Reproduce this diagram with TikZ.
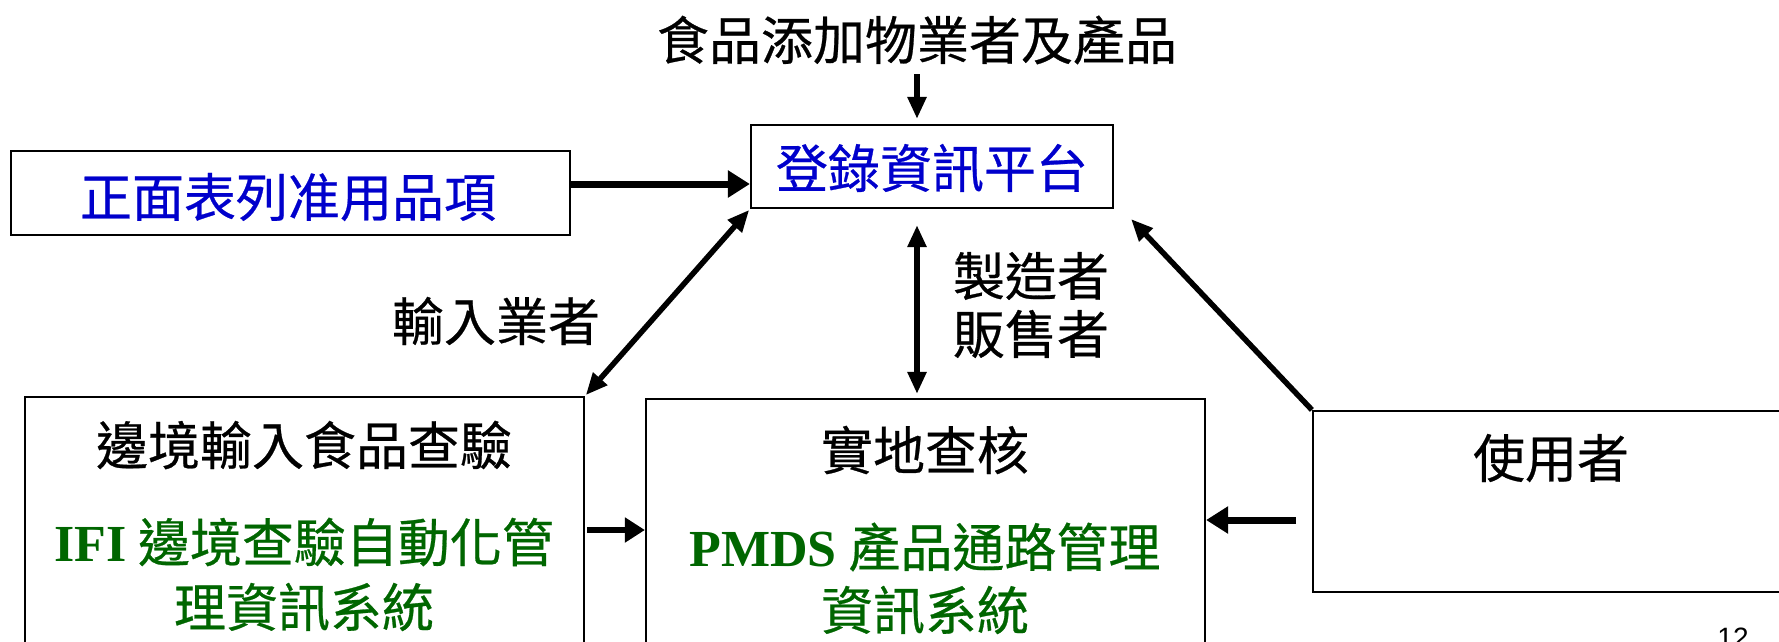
\documentclass[tikz,border=0pt]{standalone}
\usepackage{fontspec}
\setmainfont{Liberation Serif}
\newfontfamily\cjk{Noto Sans CJK TC}[FakeBold=0.5]
\newfontfamily\arialf{Liberation Sans}
\usetikzlibrary{arrows.meta}
\definecolor{tblue}{RGB}{0,0,204}
\definecolor{tgreen}{RGB}{0,102,0}
\begin{document}
\begin{tikzpicture}[x=1pt,y=-1pt,
  box/.style={draw=black,line width=2.2pt,fill=white,inner sep=0pt},
  lbl/.style={inner sep=0pt,font=\cjk\fontsize{52}{58}\selectfont},
  thickarrow/.style={line width=7pt,-{Triangle[length=22pt,width=26pt]}},
  thinarrow/.style={line width=5.5pt,-{Triangle[length=22pt,width=18pt]}},
  dblarrow/.style={line width=5.5pt,{Triangle[length=22pt,width=18pt]}-{Triangle[length=22pt,width=18pt]}}]
\useasboundingbox (0,0) rectangle (1779,641);
\clip (0,0) rectangle (1779,641);
\fill[white] (0,0) rectangle (1779,641);
% boxes
\node[box,minimum width=362pt,minimum height=83pt] (reg) at (932,166.5) {};
\node[box,minimum width=559pt,minimum height=84pt] (pos) at (290.5,193) {};
\node[box,minimum width=559pt,minimum height=260pt] (bor) at (304.5,527) {};
\node[box,minimum width=559pt,minimum height=260pt] (fld) at (925.5,529) {};
\node[box,minimum width=487pt,minimum height=181pt] (usr) at (1556.5,501.5) {};
% texts
\node[lbl] (toptxt) at (917,40) {食品添加物業者及產品};
\node[lbl,text=tblue] (regtxt) at (932,168) {登錄資訊平台};
\node[lbl,text=tblue] (postxt) at (288,197) {正面表列准用品項};
\node[lbl] (imp) at (496,321) {輸入業者};
\node[lbl,align=center] (mfr) at (1031,305) {製造者\\販售者};
\node[lbl] (bortxt) at (304,445) {邊境輸入食品查驗};
\node[lbl,text=tgreen] (ifi1) at (304,542) {{\rmfamily\bfseries IFI} 邊境查驗自動化管};
\node[lbl,text=tgreen] (ifi2) at (304,607) {理資訊系統};
\node[lbl] (fldtxt) at (925,450) {實地查核};
\node[lbl,text=tgreen] (pmds1) at (925,547) {{\rmfamily\bfseries PMDS} 產品通路管理};
\node[lbl,text=tgreen] (pmds2) at (925,610) {資訊系統};
\node[lbl] (usrtxt) at (1551,458) {使用者};
\node[inner sep=0pt,anchor=base,font=\arialf\fontsize{28}{30}\selectfont] (pg) at (1733,647) {12};
% connectors
\coordinate (posout) at (570,184);
\draw[thickarrow] (posout) -- (posout -| reg.west);
\draw[thinarrow,shorten <=8pt,shorten >=5pt] (toptxt.south |- 0,66) -- (toptxt.south |- reg.north);
\draw[dblarrow,shorten <=1pt,shorten >=1pt] (reg.south west) -- (bor.north east);
\draw[dblarrow,shorten <=16pt,shorten >=4pt] (reg.south -| toptxt.south) -- (toptxt.south |- fld.north);
\coordinate (usrend) at (1131,219);
\draw[thinarrow] (usr.north west) -- (usrend);
\coordinate (usrout) at (1296,520);
\draw[thickarrow] (usrout) -- (usrout -| fld.east);
\coordinate (borout) at (587,530);
\draw[line width=6.5pt,-{Triangle[length=20pt,width=24pt]}] (borout) -- (borout -| fld.west);
\end{tikzpicture}
\end{document}
